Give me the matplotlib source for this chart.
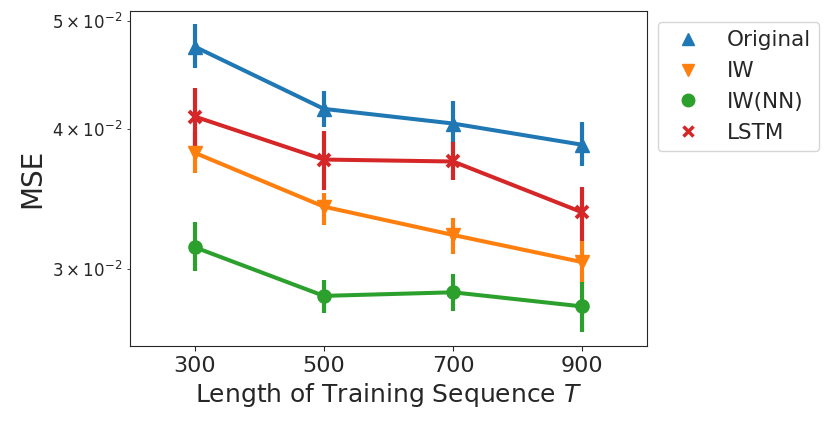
import matplotlib
matplotlib.use("Agg")
import matplotlib.pyplot as plt
from matplotlib.lines import Line2D
import numpy as np
import seaborn as sns

sns.set_style("ticks")
plt.rcParams['font.family'] = ['DejaVu Sans']

lengths = ["300", "500", "700", "900"]
methods = ["Original", "IW", "IW(NN)", "LSTM"]
markers = ["^", "v", "o", "x"]
colors = ["#1f77b4", "#ff7f0e", "#2ca02c", "#d62728"]

# mean MSE and confidence bounds
mse_mean = {
    "Original": [0.0474, 0.0417, 0.04046, 0.03873],
    "IW":       [0.0381, 0.0341, 0.03217, 0.03042],
    "IW(NN)":   [0.03137, 0.02838, 0.02859, 0.02777],
    "LSTM":     [0.04105, 0.03757, 0.03742, 0.0337],
}
mse_low = {
    "Original": [0.04536, 0.04019, 0.03891, 0.03711],
    "IW":       [0.03658, 0.03284, 0.03095, 0.0291],
    "IW(NN)":   [0.02989, 0.02738, 0.02752, 0.02634],
    "LSTM":     [0.03846, 0.0353, 0.03601, 0.0318],
}
mse_high = {
    "Original": [0.04965, 0.04328, 0.0424, 0.04058],
    "IW":       [0.0398, 0.03506, 0.0333, 0.0318],
    "IW(NN)":   [0.03301, 0.02933, 0.02967, 0.02922],
    "LSTM":     [0.04352, 0.03988, 0.03894, 0.03549],
}

fig = plt.figure(figsize=(8.31, 4.24), dpi=100)
ax = fig.add_axes([0.1564, 0.184, 0.6221, 0.790])

x = np.arange(len(lengths))
handles = []
for m, mk, c in zip(methods, markers, colors):
    mean = np.array(mse_mean[m])
    lo = np.array(mse_low[m])
    hi = np.array(mse_high[m])
    ax.vlines(x, lo, hi, color=c, linewidth=3.0, zorder=2)
    ax.plot(x, mean, color=c, linewidth=2.9, zorder=3)
    ms = 9.5 if mk != "x" else 8
    ax.plot(x, mean, linestyle="none", marker=mk, markersize=ms, color=c,
            markeredgewidth=2.8 if mk == "x" else 1, zorder=4)
    handles.append(Line2D([], [], linestyle="none", marker=mk, color=c,
                          markersize=9 if mk != "x" else 7,
                          markeredgewidth=2.5 if mk == "x" else 1))

ax.set_yscale("log")
ax.set_xlim(-0.5, 3.5)
ax.set_ylim(0.0256, 0.0510)
ax.set_xticks(x)
ax.set_xticklabels(lengths, fontsize=16)
ax.tick_params(axis="y", which="both", labelsize=12)
ax.set_xlabel("Length of Training Sequence $T$", fontsize=18)
ax.set_ylabel("MSE", fontsize=20)

ax.legend(handles, methods, loc="upper left", bbox_to_anchor=(1, 1),
          fontsize=15.5)

fig.savefig("out.png", dpi=100)
